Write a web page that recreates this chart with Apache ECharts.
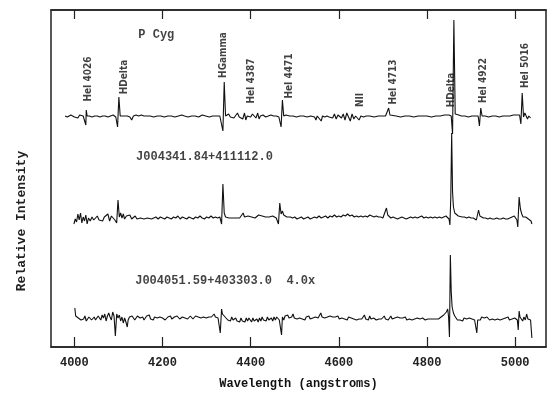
<!DOCTYPE html>
<html>
<head>
<meta charset="utf-8">
<script src="https://cdn.jsdelivr.net/npm/echarts@6/dist/echarts.min.js"></script>
<style>html,body{margin:0;padding:0;background:#fff}#c{width:560px;height:395px}</style>
</head>
<body>
<div id="c"></div>
<script>
// Wavelength tick labels (angstroms)
var tickValues = [4000, 4200, 4400, 4600, 4800, 5000];

// P Cyg spectrum [wavelength, relative intensity (offset)]
var pcyg = [
[3979,2.31],[3984,2.30],[3988,2.28],[3992,2.32],[3996,2.34],[4000,2.30],[4004,2.31],[4008,2.29],[4012,2.32],[4016,2.31],[4020,2.31],[4024,2.30],[4026,2.22],[4027,2.37],[4029,2.31],[4034,2.31],[4040,2.30],[4046,2.31],[4052,2.31],[4058,2.30],[4064,2.31],[4070,2.31],[4076,2.30],[4082,2.31],[4088,2.32],[4094,2.30],[4098,2.20],[4101,2.50],[4104,2.31],[4108,2.33],[4112,2.31],[4116,2.32],[4120,2.31],[4126,2.30],[4130,2.27],[4134,2.31],[4140,2.32],[4146,2.31],[4152,2.32],[4158,2.31],[4164,2.31],[4172,2.31],[4180,2.30],[4188,2.31],[4196,2.31],[4204,2.30],[4212,2.31],[4220,2.31],[4228,2.30],[4236,2.31],[4244,2.32],[4250,2.31],[4258,2.30],[4266,2.31],[4274,2.31],[4282,2.30],[4290,2.32],[4298,2.31],[4306,2.30],[4314,2.31],[4322,2.31],[4330,2.31],[4334,2.30],[4337,2.16],[4340,2.65],[4343,2.31],[4346,2.29],[4350,2.33],[4354,2.30],[4358,2.32],[4362,2.29],[4366,2.31],[4370,2.34],[4374,2.30],[4378,2.31],[4382,2.28],[4386,2.34],[4389,2.27],[4392,2.31],[4396,2.32],[4400,2.30],[4404,2.33],[4408,2.31],[4412,2.29],[4416,2.34],[4419,2.28],[4422,2.31],[4428,2.32],[4434,2.30],[4440,2.31],[4446,2.32],[4452,2.31],[4458,2.31],[4464,2.30],[4469,2.20],[4472,2.47],[4475,2.31],[4480,2.32],[4488,2.31],[4496,2.31],[4504,2.30],[4512,2.31],[4520,2.31],[4528,2.30],[4536,2.31],[4540,2.31],[4545,2.30],[4548,2.27],[4551,2.31],[4555,2.30],[4560,2.26],[4563,2.31],[4568,2.30],[4573,2.31],[4578,2.30],[4582,2.32],[4586,2.29],[4590,2.33],[4594,2.28],[4598,2.32],[4602,2.34],[4606,2.29],[4610,2.33],[4614,2.27],[4618,2.34],[4622,2.30],[4626,2.26],[4630,2.33],[4634,2.28],[4638,2.31],[4642,2.33],[4646,2.27],[4650,2.31],[4656,2.30],[4662,2.31],[4670,2.31],[4680,2.30],[4690,2.31],[4700,2.31],[4706,2.31],[4710,2.29],[4713,2.39],[4716,2.32],[4720,2.31],[4730,2.31],[4740,2.30],[4750,2.31],[4760,2.31],[4770,2.30],[4780,2.31],[4790,2.31],[4800,2.31],[4810,2.30],[4820,2.31],[4830,2.31],[4840,2.32],[4850,2.32],[4855,2.31],[4858,2.13],[4861,3.27],[4864,2.33],[4868,2.35],[4872,2.32],[4878,2.31],[4886,2.31],[4894,2.30],[4902,2.31],[4910,2.31],[4916,2.31],[4919,2.21],[4922,2.39],[4925,2.31],[4932,2.31],[4940,2.30],[4948,2.31],[4956,2.31],[4964,2.30],[4972,2.31],[4980,2.31],[4988,2.31],[4996,2.32],[5002,2.32],[5006,2.33],[5010,2.32],[5013,2.23],[5016,2.54],[5019,2.30],[5022,2.34],[5025,2.33],[5028,2.28],[5031,2.31],[5035,2.29]
];

// J004341.84+411112.0 spectrum
var j0043 = [
[3999,1.23],[4002,1.28],[4005,1.25],[4008,1.33],[4011,1.27],[4014,1.34],[4017,1.24],[4020,1.30],[4023,1.26],[4026,1.32],[4029,1.23],[4032,1.29],[4036,1.26],[4040,1.30],[4044,1.27],[4048,1.28],[4052,1.31],[4056,1.27],[4060,1.29],[4064,1.26],[4068,1.30],[4072,1.28],[4076,1.33],[4080,1.26],[4084,1.31],[4088,1.29],[4092,1.27],[4096,1.24],[4099,1.47],[4102,1.30],[4105,1.34],[4108,1.29],[4111,1.33],[4114,1.28],[4118,1.31],[4122,1.29],[4126,1.32],[4130,1.28],[4134,1.30],[4138,1.31],[4142,1.28],[4146,1.30],[4150,1.29],[4154,1.31],[4158,1.28],[4162,1.30],[4166,1.29],[4170,1.30],[4175,1.28],[4180,1.29],[4185,1.30],[4190,1.28],[4195,1.30],[4200,1.29],[4205,1.28],[4210,1.30],[4215,1.29],[4220,1.28],[4225,1.30],[4230,1.29],[4235,1.31],[4240,1.28],[4245,1.30],[4250,1.29],[4255,1.28],[4260,1.30],[4265,1.29],[4270,1.28],[4275,1.30],[4280,1.29],[4285,1.31],[4290,1.29],[4295,1.28],[4300,1.30],[4305,1.29],[4310,1.31],[4315,1.29],[4320,1.30],[4325,1.29],[4330,1.30],[4334,1.23],[4337,1.63],[4340,1.34],[4343,1.30],[4347,1.28],[4351,1.29],[4355,1.27],[4359,1.29],[4363,1.28],[4367,1.29],[4371,1.27],[4375,1.29],[4379,1.30],[4383,1.34],[4386,1.30],[4390,1.29],[4394,1.31],[4398,1.29],[4402,1.30],[4406,1.31],[4410,1.29],[4414,1.30],[4418,1.32],[4422,1.30],[4426,1.31],[4430,1.29],[4434,1.30],[4438,1.31],[4442,1.30],[4446,1.29],[4450,1.31],[4454,1.30],[4458,1.29],[4461,1.27],[4463,1.23],[4466,1.44],[4469,1.33],[4472,1.36],[4475,1.32],[4478,1.31],[4482,1.30],[4486,1.29],[4490,1.30],[4495,1.29],[4500,1.30],[4505,1.28],[4510,1.29],[4515,1.30],[4520,1.28],[4525,1.29],[4530,1.30],[4535,1.28],[4540,1.29],[4545,1.30],[4550,1.29],[4555,1.31],[4560,1.29],[4565,1.30],[4570,1.31],[4575,1.29],[4580,1.31],[4585,1.30],[4590,1.32],[4595,1.30],[4600,1.31],[4605,1.30],[4610,1.32],[4615,1.31],[4620,1.33],[4625,1.31],[4630,1.32],[4635,1.30],[4640,1.31],[4645,1.30],[4650,1.31],[4655,1.30],[4660,1.31],[4665,1.30],[4670,1.32],[4675,1.31],[4680,1.30],[4685,1.31],[4690,1.30],[4695,1.30],[4700,1.29],[4704,1.30],[4708,1.39],[4711,1.32],[4714,1.30],[4718,1.29],[4723,1.30],[4728,1.29],[4733,1.28],[4738,1.29],[4743,1.30],[4748,1.29],[4753,1.28],[4758,1.29],[4763,1.30],[4768,1.29],[4773,1.30],[4778,1.29],[4783,1.30],[4788,1.31],[4793,1.29],[4798,1.30],[4803,1.29],[4808,1.30],[4813,1.29],[4818,1.30],[4823,1.29],[4828,1.30],[4833,1.29],[4838,1.30],[4843,1.31],[4847,1.32],[4850,1.28],[4852,1.22],[4854,1.50],[4856,2.14],[4858,1.55],[4860,1.40],[4863,1.34],[4867,1.32],[4871,1.31],[4875,1.31],[4880,1.30],[4885,1.30],[4890,1.29],[4895,1.30],[4900,1.29],[4905,1.29],[4909,1.28],[4912,1.27],[4914,1.25],[4917,1.37],[4920,1.31],[4924,1.30],[4928,1.29],[4933,1.29],[4938,1.28],[4943,1.29],[4948,1.28],[4953,1.28],[4958,1.29],[4963,1.28],[4968,1.28],[4973,1.29],[4978,1.28],[4983,1.28],[4988,1.29],[4993,1.30],[4998,1.31],[5002,1.32],[5004,1.27],[5006,1.20],[5009,1.50],[5012,1.38],[5015,1.33],[5018,1.30],[5021,1.29],[5024,1.30],[5027,1.32],[5030,1.28],[5033,1.27],[5036,1.26],[5038,1.23]
];

// J004051.59+403303.0 spectrum (scaled 4.0x)
var j0040 = [
[4001,0.39],[4003,0.31],[4006,0.33],[4009,0.29],[4012,0.31],[4015,0.27],[4018,0.29],[4021,0.28],[4024,0.31],[4027,0.26],[4030,0.28],[4033,0.30],[4036,0.31],[4039,0.27],[4042,0.29],[4045,0.30],[4048,0.27],[4051,0.28],[4054,0.31],[4057,0.30],[4060,0.27],[4063,0.32],[4066,0.29],[4069,0.33],[4072,0.26],[4075,0.31],[4078,0.34],[4081,0.30],[4084,0.27],[4087,0.35],[4090,0.31],[4093,0.11],[4096,0.33],[4099,0.29],[4102,0.32],[4105,0.26],[4108,0.30],[4111,0.24],[4114,0.29],[4117,0.25],[4120,0.20],[4122,0.27],[4125,0.30],[4128,0.29],[4131,0.31],[4134,0.30],[4137,0.27],[4140,0.28],[4143,0.31],[4146,0.32],[4149,0.29],[4152,0.28],[4155,0.30],[4158,0.27],[4161,0.28],[4164,0.31],[4167,0.30],[4170,0.32],[4173,0.28],[4176,0.29],[4179,0.27],[4182,0.30],[4185,0.31],[4188,0.29],[4191,0.28],[4194,0.30],[4197,0.32],[4200,0.29],[4203,0.30],[4206,0.27],[4209,0.28],[4212,0.30],[4215,0.29],[4218,0.31],[4221,0.28],[4224,0.29],[4227,0.30],[4230,0.28],[4233,0.31],[4236,0.30],[4239,0.28],[4242,0.27],[4245,0.30],[4248,0.31],[4251,0.29],[4254,0.30],[4257,0.28],[4260,0.29],[4263,0.31],[4266,0.30],[4269,0.28],[4272,0.29],[4275,0.31],[4278,0.32],[4281,0.30],[4284,0.28],[4287,0.29],[4290,0.31],[4293,0.30],[4296,0.28],[4299,0.29],[4302,0.31],[4305,0.30],[4308,0.32],[4311,0.30],[4314,0.31],[4317,0.33],[4320,0.30],[4323,0.31],[4326,0.29],[4329,0.30],[4331,0.14],[4334,0.38],[4336,0.33],[4339,0.35],[4342,0.30],[4345,0.31],[4348,0.27],[4351,0.29],[4354,0.26],[4357,0.30],[4360,0.27],[4363,0.26],[4366,0.29],[4369,0.26],[4372,0.28],[4375,0.25],[4378,0.29],[4381,0.26],[4384,0.28],[4387,0.25],[4390,0.29],[4393,0.26],[4396,0.29],[4399,0.27],[4402,0.25],[4405,0.29],[4408,0.26],[4411,0.24],[4414,0.28],[4417,0.25],[4420,0.29],[4423,0.26],[4426,0.30],[4429,0.27],[4432,0.29],[4435,0.26],[4438,0.30],[4441,0.27],[4444,0.25],[4447,0.29],[4450,0.26],[4453,0.30],[4456,0.27],[4459,0.30],[4462,0.31],[4465,0.27],[4468,0.25],[4470,0.12],[4472,0.30],[4475,0.27],[4478,0.31],[4481,0.30],[4484,0.32],[4487,0.29],[4490,0.31],[4493,0.30],[4496,0.33],[4499,0.29],[4502,0.31],[4505,0.28],[4508,0.30],[4511,0.29],[4514,0.31],[4517,0.28],[4520,0.30],[4523,0.27],[4526,0.30],[4529,0.29],[4532,0.31],[4535,0.28],[4538,0.30],[4541,0.29],[4544,0.31],[4547,0.30],[4550,0.32],[4553,0.29],[4556,0.31],[4559,0.34],[4562,0.30],[4565,0.32],[4568,0.29],[4571,0.31],[4574,0.30],[4577,0.28],[4580,0.31],[4583,0.29],[4586,0.30],[4589,0.28],[4592,0.30],[4595,0.29],[4598,0.31],[4601,0.28],[4604,0.30],[4607,0.29],[4610,0.31],[4613,0.28],[4616,0.29],[4619,0.27],[4622,0.30],[4625,0.28],[4628,0.29],[4631,0.31],[4634,0.28],[4637,0.30],[4640,0.27],[4643,0.29],[4646,0.28],[4649,0.30],[4652,0.28],[4655,0.30],[4658,0.32],[4661,0.28],[4664,0.30],[4667,0.27],[4670,0.31],[4673,0.28],[4676,0.30],[4679,0.29],[4682,0.31],[4685,0.27],[4688,0.29],[4691,0.28],[4694,0.30],[4697,0.28],[4700,0.29],[4703,0.31],[4706,0.28],[4709,0.30],[4712,0.27],[4715,0.29],[4718,0.31],[4721,0.28],[4724,0.30],[4727,0.29],[4730,0.27],[4733,0.30],[4736,0.28],[4739,0.29],[4742,0.27],[4745,0.29],[4748,0.28],[4751,0.30],[4754,0.27],[4757,0.29],[4760,0.28],[4763,0.30],[4766,0.27],[4769,0.29],[4772,0.28],[4775,0.27],[4778,0.29],[4781,0.27],[4784,0.28],[4787,0.27],[4790,0.29],[4793,0.28],[4796,0.27],[4799,0.29],[4802,0.28],[4805,0.27],[4808,0.28],[4811,0.27],[4814,0.28],[4817,0.27],[4820,0.28],[4823,0.29],[4826,0.28],[4829,0.29],[4832,0.30],[4835,0.31],[4838,0.32],[4841,0.33],[4844,0.35],[4847,0.38],[4849,0.30],[4851,0.10],[4852,0.50],[4853,0.92],[4855,0.55],[4857,0.40],[4860,0.34],[4863,0.31],[4866,0.29],[4869,0.27],[4872,0.28],[4875,0.27],[4878,0.28],[4881,0.26],[4884,0.29],[4887,0.27],[4890,0.28],[4893,0.26],[4896,0.29],[4899,0.27],[4902,0.28],[4905,0.30],[4908,0.27],[4911,0.26],[4913,0.14],[4915,0.27],[4918,0.29],[4921,0.27],[4924,0.30],[4927,0.28],[4930,0.29],[4933,0.27],[4936,0.30],[4939,0.28],[4942,0.27],[4945,0.29],[4948,0.28],[4951,0.30],[4954,0.27],[4957,0.29],[4960,0.28],[4963,0.30],[4966,0.27],[4969,0.29],[4972,0.28],[4975,0.27],[4978,0.29],[4981,0.28],[4984,0.30],[4987,0.27],[4990,0.29],[4993,0.28],[4996,0.27],[4999,0.29],[5002,0.28],[5005,0.27],[5007,0.17],[5009,0.36],[5011,0.30],[5014,0.32],[5017,0.26],[5020,0.30],[5023,0.27],[5026,0.33],[5029,0.28],[5032,0.30],[5035,0.27],[5037,0.29],[5038,0.09]
];

// Line identification labels: [text, wavelength position, height]
var lineLabels = [
['HeI 4026',4032,2.68],['HDelta',4113,2.70],['HGamma',4338,2.92],['HeI 4387',4402,2.66],
['HeI 4471',4488,2.71],['NII',4648,2.47],['HeI 4713',4724,2.65],['HDelta',4856,2.57],
['HeI 4922',4927,2.665],['HeI 5016',5024,2.815]
];
// Spectrum names: [text, wavelength position, height]
var starNames = [
['P Cyg',4145,3.12],['J004341.84+411112.0',4140,1.90],['J004051.59+403303.0  4.0x',4138,0.66]
];

var monoFont = "'Liberation Mono','DejaVu Sans Mono',monospace";
var narrowFont = "'Liberation Sans Narrow','DejaVu Sans Condensed',sans-serif";

var chart = echarts.init(document.getElementById('c'), null, {renderer:'canvas'});

function specSeries(data){
  return {type:'line', data:data, showSymbol:false, symbol:'none', silent:true,
    lineStyle:{color:'#111', width:1.1}, animation:false, z:3};
}

chart.setOption({
  animation:false,
  backgroundColor:'#fff',
  grid:{left:51, right:14, top:10, bottom:48, show:true, borderColor:'#222', borderWidth:1.5, backgroundColor:'transparent'},
  xAxis:[{
    type:'value', position:'bottom', min:3947, max:5070,
    name:'Wavelength (angstroms)', nameLocation:'middle', nameGap:31,
    nameTextStyle:{fontFamily:monoFont, fontWeight:'bold', fontSize:12, color:'#111'},
    axisLine:{show:true, lineStyle:{color:'#222', width:1.5}},
    axisTick:{show:true, inside:true, length:10, customValues:tickValues, lineStyle:{color:'#222', width:1.2}},
    axisLabel:{show:true, margin:10, customValues:tickValues, formatter:function(v){return String(v);}, fontFamily:monoFont, fontWeight:'bold', fontSize:12, color:'#222'},
    splitLine:{show:false}
  },{
    type:'value', position:'top', min:3947, max:5070,
    axisLine:{show:true, lineStyle:{color:'#222', width:1.5}},
    axisTick:{show:true, inside:true, length:9, customValues:tickValues, lineStyle:{color:'#222', width:1.2}},
    axisLabel:{show:false}, splitLine:{show:false}
  }],
  yAxis:{type:'value', min:0, max:3.37, show:false},
  graphic:[{
    type:'text', x:22, y:221, rotation:Math.PI/2,
    style:{text:'Relative Intensity', fontFamily:monoFont, fontWeight:'bold', fontSize:13, fill:'#222', align:'center', verticalAlign:'middle'}
  }],
  series:[
    specSeries(pcyg), specSeries(j0043), specSeries(j0040),
    {type:'scatter', symbolSize:0, silent:true, z:5,
     data:lineLabels.map(function(d){return {name:d[0], value:[d[1],d[2]]};}),
     label:{show:true, position:'inside', rotate:90, formatter:'{b}', fontFamily:narrowFont, fontWeight:'bold', fontSize:10, color:'#111'}},
    {type:'scatter', symbolSize:0, silent:true, z:5,
     data:starNames.map(function(d){return {name:d[0], value:[d[1],d[2]]};}),
     label:{show:true, position:'right', distance:0, formatter:'{b}', fontFamily:monoFont, fontWeight:'bold', fontSize:12, color:'#111'}}
  ]
});
</script>
</body>
</html>
